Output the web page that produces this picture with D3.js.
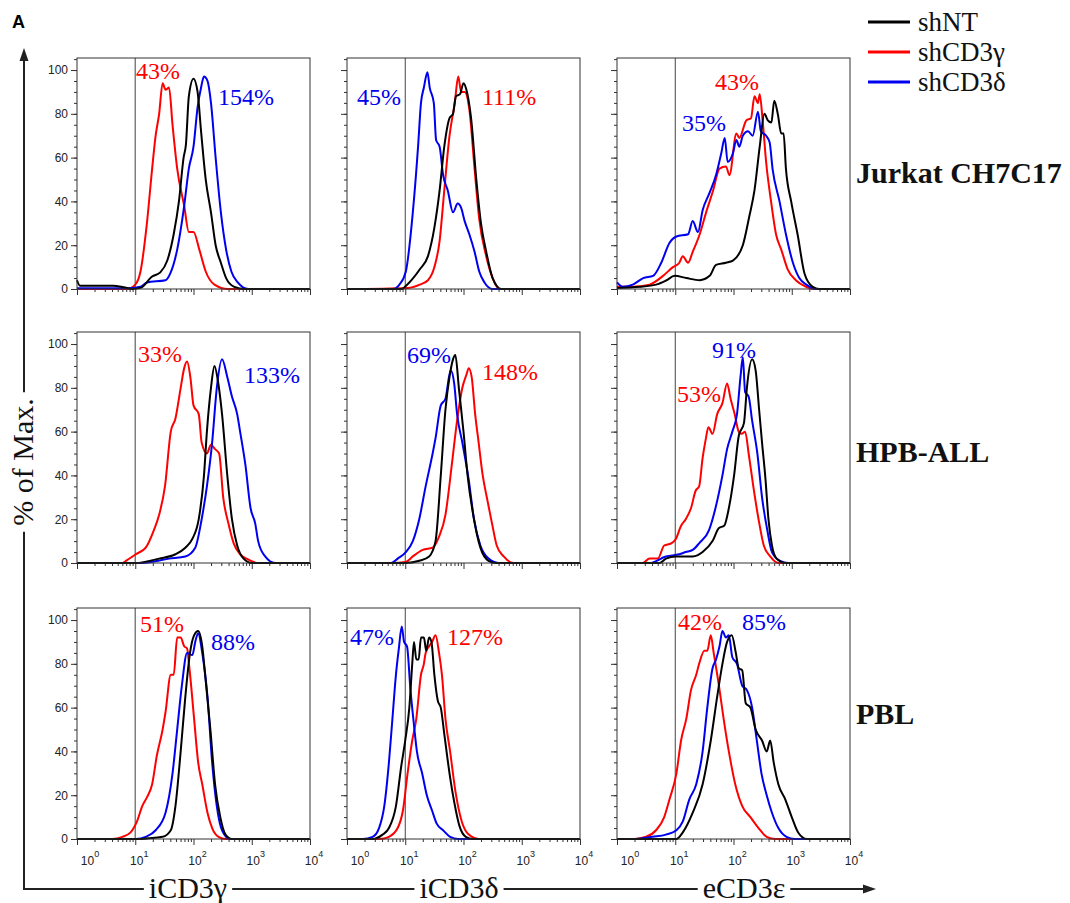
<!DOCTYPE html>
<html>
<head>
<meta charset="utf-8">
<script src="https://cdn.jsdelivr.net/npm/d3@7.9.0/dist/d3.min.js"></script>
<style>
  body { margin: 0; background: #fff; }
  svg { display: block; }
</style>
</head>
<body>
<script>
// ---- data: [log10 intensity, % of max] ----
const series = ['shNT', 'shCD3γ', 'shCD3δ'];
const cells = ['Jurkat CH7C17', 'HPB-ALL', 'PBL'];
const markers = ['iCD3γ', 'iCD3δ', 'eCD3ε'];
const xTicks = [1, 10, 100, 1000, 10000];
const yTicks = [0, 20, 40, 60, 80, 100];
const gate = 10;

// Jurkat CH7C17
const jurkatGammaNT = [[0,4],[0.05,1.5],[0.2,1.5],[0.62,1.5],[0.8,0.8],[0.95,0],[1.09,0.5],[1.29,5.7],[1.43,7.6],[1.55,13],[1.66,25],[1.75,40],[1.83,60],[1.87,66],[1.92,88],[2.0,96],[2.07,90],[2.13,72],[2.21,50],[2.3,35],[2.38,20],[2.47,12],[2.56,5],[2.7,1],[2.88,0],[4,0]];
const jurkatGammaG = [[0,0],[0.86,0],[1.0,2],[1.09,8],[1.2,30],[1.29,55],[1.35,70],[1.41,80],[1.47,94],[1.52,91],[1.58,92],[1.64,75],[1.72,55],[1.84,38],[1.92,26],[2.0,26],[2.1,18],[2.21,8],[2.36,2],[2.59,0],[4,0]];
const jurkatGammaD = [[0,0.3],[0.9,0.3],[1.09,1],[1.2,3],[1.52,4],[1.6,7],[1.72,18],[1.84,38],[1.92,55],[2.0,65],[2.07,83],[2.13,92],[2.18,97],[2.24,95],[2.3,85],[2.38,60],[2.47,35],[2.56,18],[2.65,8],[2.76,3],[2.94,0],[4,0]];
const jurkatDeltaNT = [[0,0],[0.93,0],[1.07,3],[1.25,9],[1.39,15],[1.5,28],[1.59,45],[1.67,65],[1.76,78],[1.82,80],[1.87,88],[1.94,89],[2.0,94],[2.05,91],[2.13,78],[2.22,50],[2.3,30],[2.39,17],[2.5,5],[2.65,0],[4,0]];
const jurkatDeltaG = [[0,0],[1.05,0.5],[1.25,2],[1.39,4],[1.5,10],[1.59,22],[1.67,45],[1.76,70],[1.85,85],[1.91,97],[1.96,90],[2.02,90],[2.1,82],[2.19,55],[2.27,32],[2.39,15],[2.5,5],[2.62,0],[4,0]];
const jurkatDeltaD = [[0,0],[0.79,0],[0.9,2],[1.01,8],[1.13,35],[1.22,65],[1.27,85],[1.32,92],[1.38,99],[1.42,92],[1.49,85],[1.53,68],[1.59,65],[1.65,52],[1.73,45],[1.82,35],[1.9,39],[1.96,37],[2.02,31],[2.1,25],[2.19,17],[2.27,8],[2.36,3],[2.5,0],[4,0]];
const jurkatEpsNT = [[0,0.5],[0.39,1],[0.67,2],[0.85,4],[0.99,6],[1.19,5],[1.42,4],[1.59,6],[1.7,11],[1.87,12],[1.99,13],[2.16,20],[2.27,33],[2.36,45],[2.45,65],[2.53,80],[2.59,77],[2.65,76],[2.7,86],[2.76,80],[2.82,71],[2.86,71],[2.9,55],[2.99,40],[3.1,25],[3.22,7],[3.36,1],[3.47,0],[4,0]];
const jurkatEpsG = [[0,1],[0.27,1],[0.56,2],[0.79,6],[0.96,10],[1.07,12],[1.13,15],[1.22,12],[1.3,17],[1.42,25],[1.53,35],[1.65,45],[1.76,55],[1.87,56],[1.93,52],[2.05,71],[2.1,69],[2.22,77],[2.3,78],[2.36,88],[2.42,85],[2.45,89],[2.5,77],[2.56,58],[2.65,39],[2.73,25],[2.82,18],[2.93,9],[3.07,4],[3.25,1],[3.36,0],[4,0]];
const jurkatEpsD = [[0,3],[0.1,1],[0.27,2],[0.45,5],[0.62,6],[0.76,12],[0.9,21],[1.02,24],[1.22,25],[1.3,31],[1.39,26],[1.47,36],[1.59,44],[1.7,52],[1.79,62],[1.85,69],[1.9,58],[1.99,62],[2.05,68],[2.1,65],[2.16,70],[2.25,72],[2.33,70],[2.42,81],[2.47,72],[2.56,70],[2.62,67],[2.67,55],[2.79,40],[2.9,25],[3.02,12],[3.13,5],[3.25,2],[3.42,0],[4,0]];

// HPB-ALL
const hpbGammaNT = [[0,0],[1.01,0],[1.41,2],[1.69,4],[1.86,7],[1.98,11],[2.09,20],[2.18,40],[2.23,60],[2.3,80],[2.36,90],[2.42,83],[2.49,68],[2.58,40],[2.66,20],[2.75,8],[2.86,2],[3.0,0],[4,0]];
const hpbGammaG = [[0,0],[0.78,0],[0.84,1],[1.01,4],[1.18,7],[1.32,15],[1.41,22],[1.51,35],[1.61,60],[1.69,66],[1.78,80],[1.84,89],[1.89,92],[1.95,84],[2.0,72],[2.09,68],[2.14,55],[2.23,50],[2.3,54],[2.37,52],[2.44,50],[2.51,30],[2.6,18],[2.69,9],[2.8,4],[2.91,2],[3.11,0],[4,0]];
const hpbGammaD = [[0,0],[1.13,0],[1.58,2],[1.86,3],[2.03,7],[2.14,20],[2.23,35],[2.32,55],[2.4,80],[2.49,93],[2.58,85],[2.66,76],[2.75,68],[2.8,60],[2.89,45],[2.98,25],[3.06,18],[3.11,10],[3.23,3],[3.4,0],[4,0]];
const hpbDeltaNT = [[0,0],[1.01,0],[1.24,1],[1.41,3],[1.52,10],[1.61,40],[1.69,70],[1.76,85],[1.82,93],[1.86,95],[1.92,80],[2.0,60],[2.07,40],[2.18,20],[2.29,7],[2.43,1],[2.55,0],[4,0]];
const hpbDeltaG = [[0,0],[0.76,0],[1.01,0.5],[1.13,3],[1.3,6],[1.47,7],[1.58,12],[1.69,22],[1.8,45],[1.89,65],[1.98,80],[2.05,86],[2.09,89],[2.14,85],[2.2,68],[2.26,55],[2.33,40],[2.4,30],[2.49,18],[2.57,8],[2.69,3],[2.86,0],[4,0]];
const hpbDeltaD = [[0,0],[0.76,0],[0.87,2],[1.01,5],[1.13,10],[1.24,20],[1.35,35],[1.47,50],[1.52,57],[1.61,72],[1.69,75],[1.78,88],[1.84,82],[1.89,68],[1.98,55],[2.09,38],[2.18,20],[2.29,8],[2.43,2],[2.6,0],[4,0]];
const hpbEpsNT = [[0,0],[0.73,0],[0.84,2],[1.01,3],[1.3,3],[1.47,5],[1.64,10],[1.75,16],[1.84,17],[1.92,25],[2.01,40],[2.09,58],[2.18,64],[2.23,80],[2.32,93],[2.38,88],[2.44,70],[2.49,55],[2.55,38],[2.6,20],[2.66,8],[2.74,2],[2.89,0],[4,0]];
const hpbEpsG = [[0,0],[0.44,0],[0.56,2],[0.7,2],[0.81,8],[0.93,9],[1.01,11],[1.1,17],[1.18,20],[1.27,25],[1.35,33],[1.41,35],[1.47,48],[1.52,56],[1.57,62],[1.64,59],[1.72,68],[1.81,73],[1.89,82],[1.95,75],[2.02,68],[2.09,60],[2.14,59],[2.2,60],[2.26,50],[2.34,35],[2.43,20],[2.52,8],[2.63,3],[2.77,0],[4,0]];
const hpbEpsD = [[0,0],[0.56,0],[0.84,3],[1.07,4],[1.18,5],[1.3,6],[1.41,9],[1.58,15],[1.69,25],[1.81,40],[1.89,52],[1.98,60],[2.06,68],[2.12,85],[2.16,94],[2.2,78],[2.26,76],[2.32,65],[2.41,50],[2.49,30],[2.58,15],[2.66,5],[2.8,1],[2.94,0],[4,0]];

// PBL
const pblGammaNT = [[0,0],[1.01,0],[1.29,0.5],[1.47,1],[1.61,4],[1.69,15],[1.78,40],[1.86,65],[1.94,85],[2.01,93],[2.08,95],[2.15,88],[2.2,75],[2.29,50],[2.37,25],[2.46,10],[2.55,2],[2.66,0],[4,0]];
const pblGammaG = [[0,0],[0.61,0],[0.78,1],[0.92,3],[1.03,8],[1.12,15],[1.2,19],[1.29,25],[1.37,38],[1.47,50],[1.52,58],[1.61,75],[1.66,75],[1.72,92],[1.78,92],[1.84,88],[1.89,87],[1.93,78],[2.01,55],[2.08,35],[2.15,25],[2.24,12],[2.32,5],[2.43,1],[2.55,0],[4,0]];
const pblGammaD = [[0,0],[1.01,0],[1.18,1],[1.35,4],[1.52,12],[1.64,30],[1.72,50],[1.8,70],[1.89,85],[1.98,84],[2.03,90],[2.08,94],[2.15,85],[2.24,65],[2.32,35],[2.4,15],[2.49,4],[2.63,0],[4,0]];
const pblDeltaNT = [[0,0],[0.44,0],[0.61,2],[0.72,5],[0.84,15],[0.93,33],[1.0,45],[1.07,60],[1.12,80],[1.15,90],[1.19,82],[1.23,82],[1.27,92],[1.32,92],[1.36,86],[1.41,92],[1.45,90],[1.5,75],[1.56,63],[1.61,60],[1.67,48],[1.76,30],[1.84,17],[1.93,6],[2.04,1],[2.16,0],[4,0]];
const pblDeltaG = [[0,0],[0.56,0],[0.72,1],[0.87,5],[0.96,13],[1.04,30],[1.12,45],[1.19,55],[1.27,75],[1.32,80],[1.35,85],[1.41,88],[1.46,90],[1.52,93],[1.58,85],[1.63,75],[1.69,55],[1.77,40],[1.86,22],[1.97,8],[2.09,2],[2.26,0],[4,0]];
const pblDeltaD = [[0,0],[0.27,0],[0.44,1],[0.55,5],[0.64,15],[0.72,35],[0.78,55],[0.84,75],[0.89,87],[0.94,97],[0.98,90],[1.03,88],[1.09,68],[1.15,52],[1.2,40],[1.29,30],[1.37,20],[1.46,13],[1.54,7],[1.65,4],[1.77,1],[1.91,0],[4,0]];
const pblEpsNT = [[0,0],[1.02,0],[1.13,3],[1.3,12],[1.47,25],[1.61,45],[1.72,65],[1.81,80],[1.89,90],[1.97,93],[2.04,85],[2.09,78],[2.15,77],[2.21,62],[2.29,60],[2.38,50],[2.49,45],[2.57,40],[2.63,45],[2.69,35],[2.77,25],[2.89,18],[3.0,10],[3.11,3],[3.26,0],[4,0]];
const pblEpsG = [[0,0],[0.3,0],[0.5,1],[0.67,4],[0.81,10],[0.9,18],[1.02,30],[1.1,45],[1.19,55],[1.27,68],[1.36,75],[1.41,80],[1.5,86],[1.55,86],[1.61,93],[1.66,85],[1.75,70],[1.83,55],[1.92,40],[2.03,25],[2.15,15],[2.29,10],[2.43,5],[2.57,1],[2.72,0],[4,0]];
const pblEpsD = [[0,0],[0.33,0],[0.61,1],[0.84,2],[1.02,4],[1.13,8],[1.24,18],[1.36,25],[1.47,40],[1.55,60],[1.64,78],[1.7,82],[1.76,88],[1.81,95],[1.87,92],[1.92,93],[1.98,83],[2.06,80],[2.15,70],[2.23,68],[2.32,60],[2.4,45],[2.48,30],[2.57,20],[2.66,12],[2.77,5],[2.91,1],[3.05,0],[4,0]];

// percent labels per panel (row by row) and which series they belong to
const percentText = [
  ['43%', '154%'], ['45%', '111%'], ['43%', '35%'],
  ['33%', '133%'], ['69%', '148%'], ['91%', '53%'],
  ['51%', '88%'], ['47%', '127%'], ['42%', '85%']
];
const percentSeries = [[1, 2], [2, 1], [1, 2], [1, 2], [2, 1], [2, 1], [1, 2], [2, 1], [1, 2]];

// ---- layout ----
const W = 1070, H = 903;
const colX = [77, 347, 617];
const rowY = [58, 332, 608];
const pw = 233, ph = 231;
const colors = ['#000000', '#ff0000', '#0000f0'];
const serif = "'Liberation Serif', 'Times New Roman', Times, serif";
const sans = "'Liberation Sans', Arial, Helvetica, sans-serif";
// label offsets inside each panel (px from panel top-left, text baseline)
const percentAt = [
  [[59, 21], [141, 47]], [[10, 47], [135, 47]], [[98, 32], [65, 73]],
  [[61, 30], [167, 51]], [[60, 31], [135, 48]], [[95, 26], [60, 70]],
  [[63, 24], [134, 42]], [[3, 37], [100, 37]], [[61, 22], [125, 22]]
];

const panels = [
  [jurkatGammaNT, jurkatGammaG, jurkatGammaD], [jurkatDeltaNT, jurkatDeltaG, jurkatDeltaD], [jurkatEpsNT, jurkatEpsG, jurkatEpsD],
  [hpbGammaNT, hpbGammaG, hpbGammaD], [hpbDeltaNT, hpbDeltaG, hpbDeltaD], [hpbEpsNT, hpbEpsG, hpbEpsD],
  [pblGammaNT, pblGammaG, pblGammaD], [pblDeltaNT, pblDeltaG, pblDeltaD], [pblEpsNT, pblEpsG, pblEpsD]
];

const svg = d3.select('body').append('svg').attr('width', W).attr('height', H);

const x = d3.scaleLog().domain([1, 1e4]).range([0, pw]);
const y = d3.scaleLinear().domain([0, 105.5]).range([ph, 0]);
const minorX = [];
for (let d = 1; d < 1e4; d *= 10) for (let k = 2; k <= 9; k++) minorX.push(d * k);

const line = d3.line()
  .x(d => x(10 ** d[0]))
  .y(d => y(d[1]))
  .curve(d3.curveMonotoneX);

// draw order: red, blue, black on top
const drawOrder = [1, 2, 0];

panels.forEach((curves, i) => {
  const r = Math.floor(i / 3), c = i % 3;
  const g = svg.append('g').attr('transform', `translate(${colX[c]},${rowY[r]})`);

  // y ticks (minor + major)
  const yMinor = g.append('g').call(d3.axisLeft(y).tickValues(d3.range(0, 106, 5)).tickSize(3).tickFormat(''));
  const yMajor = g.append('g').call(d3.axisLeft(y).tickValues(yTicks).tickSize(6)
    .tickFormat(c === 0 ? d3.format('d') : ''));
  // x ticks
  const xMinor = g.append('g').attr('transform', `translate(0,${ph})`)
    .call(d3.axisBottom(x).tickValues(minorX).tickSize(3).tickFormat(''));
  const xMajor = g.append('g').attr('transform', `translate(0,${ph})`)
    .call(d3.axisBottom(x).tickValues(xTicks).tickSize(6).tickFormat(''));
  [yMinor, yMajor, xMinor, xMajor].forEach(a => {
    a.select('.domain').remove();
    a.selectAll('line').attr('stroke', '#333');
  });
  yMajor.selectAll('text').attr('font-family', sans).attr('font-size', 12).attr('fill', '#222').attr('x', -9);

  if (r === 2) {
    const lab = g.append('g').attr('font-family', sans).attr('fill', '#222');
    xTicks.forEach((v, k) => {
      const t = lab.append('text')
        .attr('x', x(v) + (k === 0 ? 13 : 4))
        .attr('y', ph + 26)
        .attr('text-anchor', 'middle')
        .attr('font-size', 12)
        .text('10');
      t.append('tspan').attr('dy', -8).attr('font-size', 9).text(Math.log10(v));
    });
  }

  // gate line
  g.append('line')
    .attr('x1', x(gate)).attr('x2', x(gate))
    .attr('y1', 0).attr('y2', ph)
    .attr('stroke', c === 0 ? '#777' : '#444').attr('stroke-width', c === 0 ? 1.4 : 1);

  // histograms
  drawOrder.forEach(s => {
    g.append('path')
      .datum(curves[s])
      .attr('d', line)
      .attr('fill', 'none')
      .attr('stroke', colors[s])
      .attr('stroke-width', 2)
      .attr('stroke-linejoin', 'round');
  });

  // frame
  g.append('rect')
    .attr('width', pw).attr('height', ph)
    .attr('fill', 'none').attr('stroke', '#333').attr('stroke-width', 1);

  // percent labels
  percentText[i].forEach((t, k) => {
    g.append('text')
      .attr('x', percentAt[i][k][0]).attr('y', percentAt[i][k][1])
      .attr('font-family', serif).attr('font-size', 24)
      .attr('fill', colors[percentSeries[i][k]])
      .text(t);
  });
});

// row labels
const rowLabelY = [183, 462, 724];
cells.forEach((t, r) => {
  svg.append('text')
    .attr('x', 856).attr('y', rowLabelY[r])
    .attr('font-family', serif).attr('font-weight', 'bold').attr('font-size', 30)
    .attr('fill', '#111')
    .text(t);
});

// legend
const legend = svg.append('g').attr('transform', 'translate(868,22)');
series.forEach((s, k) => {
  const row = legend.append('g').attr('transform', `translate(0,${k * 30})`);
  row.append('line').attr('x1', 0).attr('x2', 42).attr('stroke', colors[k]).attr('stroke-width', 3);
  row.append('text').attr('x', 50).attr('y', 9)
    .attr('font-family', serif).attr('font-size', 27).attr('fill', '#111').text(s);
});

// outer axes with arrows
const axisY = 889, axisX = 24;
svg.append('path')
  .attr('d', `M${axisX},58 V${axisY} H865`)
  .attr('fill', 'none').attr('stroke', '#222').attr('stroke-width', 2);
svg.append('path').attr('d', `M${axisX},48 L${axisX - 4.5},61 L${axisX + 4.5},61 Z`).attr('fill', '#222');
svg.append('path').attr('d', `M876,${axisY} L863,${axisY - 4.5} L863,${axisY + 4.5} Z`).attr('fill', '#222');

function gapLabel(textSel, pad) {
  const b = textSel.node().getBBox();
  svg.insert('rect', () => textSel.node())
    .attr('x', b.x - pad).attr('y', b.y - pad)
    .attr('width', b.width + 2 * pad).attr('height', b.height + 2 * pad)
    .attr('fill', '#fff');
}

const markerX = [188, 459, 744];
markers.forEach((m, c) => {
  const t = svg.append('text')
    .attr('x', markerX[c]).attr('y', 898)
    .attr('text-anchor', 'middle')
    .attr('font-family', serif).attr('font-size', 30).attr('fill', '#111')
    .text(m);
  gapLabel(t, 5);
});

const yLab = svg.append('text')
  .attr('transform', `translate(33,462) rotate(-90)`)
  .attr('text-anchor', 'middle')
  .attr('font-family', serif).attr('font-size', 30).attr('fill', '#111')
  .text('% of Max.');
{
  const b = yLab.node().getBBox();
  svg.insert('rect', () => yLab.node())
    .attr('x', 33 + b.y - 4).attr('y', 462 - b.width / 2 - 6)
    .attr('width', b.height + 8).attr('height', b.width + 12)
    .attr('fill', '#fff');
}

// panel letter
svg.append('text')
  .attr('x', 12).attr('y', 28)
  .attr('font-family', sans).attr('font-weight', 'bold').attr('font-size', 18)
  .text('A');
</script>
</body>
</html>
